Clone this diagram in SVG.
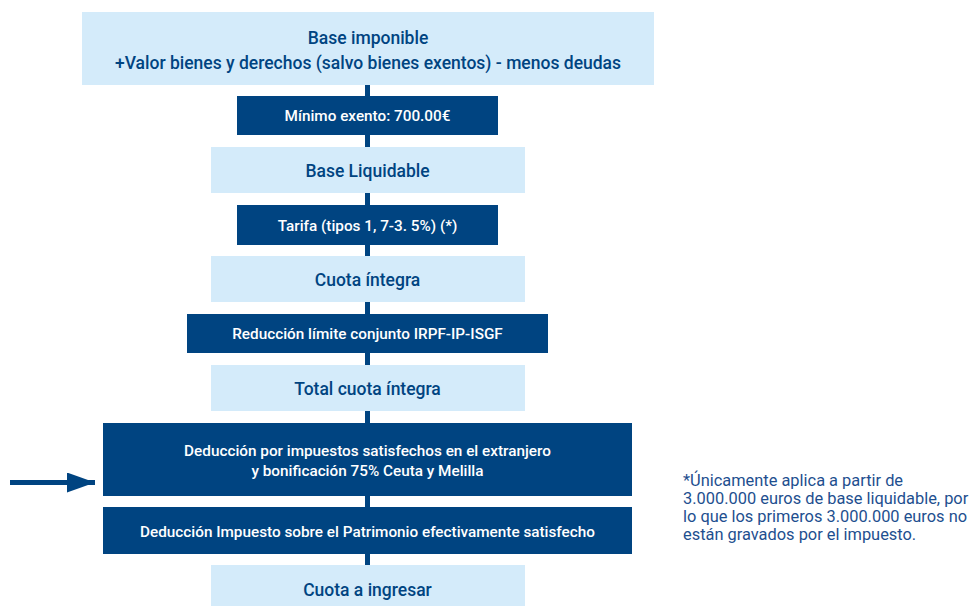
<svg xmlns="http://www.w3.org/2000/svg" width="974" height="606" viewBox="0 0 974 606">
  <style>
    .light { fill: #d4ebfa; }
    .dark { fill: #004481; }
    .lt { font-family: Roboto, "Liberation Sans", sans-serif; font-weight: 500; font-size: 17.5px; fill: #004481; text-anchor: middle; }
    .dt { font-family: Roboto, "Liberation Sans", sans-serif; font-weight: 500; font-size: 15.3px; fill: #ffffff; text-anchor: middle; }
    .note { font-family: Roboto, "Liberation Sans", sans-serif; font-weight: 400; font-size: 16.4px; fill: #1e4f8f; }
    .link { stroke: #004481; stroke-width: 5; fill: none; }
    .arrow { stroke: #004481; stroke-width: 5; fill: none; }
  </style>
  <defs>
    <marker id="head" markerUnits="userSpaceOnUse" markerWidth="28" markerHeight="20" refX="28" refY="10" orient="auto">
      <path d="M0,0 L28,10 L0,20 Z" fill="#004481"/>
    </marker>
  </defs>

  <!-- connectors -->
  <g id="connectors">
    <line class="link" x1="367.5" y1="85" x2="367.5" y2="565"/>
    <line class="arrow" x1="10" y1="482.5" x2="95" y2="482.5" marker-end="url(#head)"/>
  </g>

  <g id="base-imponible">
    <rect class="light" x="82" y="12" width="572" height="73"/>
    <text class="lt" x="368" y="43.5">Base imponible</text>
    <text class="lt" x="368" y="68.5">+Valor bienes y derechos (salvo bienes exentos) - menos deudas</text>
  </g>

  <g id="minimo-exento">
    <rect class="dark" x="237" y="96" width="261" height="39"/>
    <text class="dt" x="367.5" y="121">Mínimo exento: 700.00€</text>
  </g>

  <g id="base-liquidable">
    <rect class="light" x="211" y="147" width="314" height="46"/>
    <text class="lt" x="367.5" y="176.5">Base Liquidable</text>
  </g>

  <g id="tarifa">
    <rect class="dark" x="237" y="205" width="261" height="40"/>
    <text class="dt" x="367.5" y="230.5">Tarifa (tipos 1, 7-3. 5%) (*)</text>
  </g>

  <g id="cuota-integra">
    <rect class="light" x="211" y="256" width="314" height="46"/>
    <text class="lt" x="367.5" y="285.5">Cuota íntegra</text>
  </g>

  <g id="reduccion-limite">
    <rect class="dark" x="187" y="314" width="361" height="39"/>
    <text class="dt" x="367.5" y="339">Reducción límite conjunto IRPF-IP-ISGF</text>
  </g>

  <g id="total-cuota-integra">
    <rect class="light" x="211" y="365" width="314" height="46"/>
    <text class="lt" x="367.5" y="394.5">Total cuota íntegra</text>
  </g>

  <g id="deduccion-extranjero">
    <rect class="dark" x="103" y="423" width="529" height="73"/>
    <text class="dt" x="367.5" y="455.5">Deducción por impuestos satisfechos en el extranjero</text>
    <text class="dt" x="367.5" y="475.5">y bonificación 75% Ceuta y Melilla</text>
  </g>

  <g id="deduccion-patrimonio">
    <rect class="dark" x="103" y="507" width="529" height="47"/>
    <text class="dt" x="367.5" y="536.5">Deducción Impuesto sobre el Patrimonio efectivamente satisfecho</text>
  </g>

  <g id="cuota-ingresar">
    <rect class="light" x="211" y="565" width="314" height="41"/>
    <text class="lt" x="367.5" y="595.5">Cuota a ingresar</text>
  </g>

  <g id="nota">
    <text class="note" x="683" y="486">*Únicamente aplica a partir de</text>
    <text class="note" x="683" y="504">3.000.000 euros de base liquidable, por</text>
    <text class="note" x="683" y="522">lo que los primeros 3.000.000 euros no</text>
    <text class="note" x="683" y="540">están gravados por el impuesto.</text>
  </g>
</svg>
